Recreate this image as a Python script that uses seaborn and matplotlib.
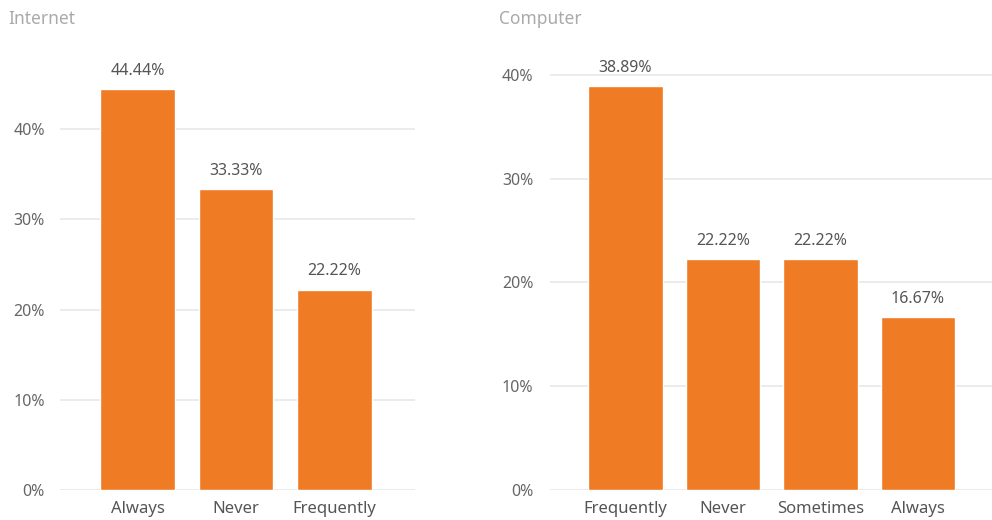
import matplotlib.pyplot as plt
import matplotlib.ticker as mtick
import pandas as pd
import seaborn as sns

# data
internetCats = ["Always", "Never", "Frequently"]
internetVals = [44.44, 33.33, 22.22]
computerCats = ["Frequently", "Never", "Sometimes", "Always"]
computerVals = [38.89, 22.22, 22.22, 16.67]

barColor = "#F07B25"
gridColor = "#E8E8E8"

sns.set_theme(style="white")
plt.rcParams['font.family'] = ['Noto Sans', 'DejaVu Sans']

W, H = 992, 520
fig = plt.figure(figsize=(W / 100, H / 100), dpi=100)


def makeAx(left, right, top, bottom):
    return fig.add_axes([left / W, (H - bottom) / H, (right - left) / W, (bottom - top) / H])


def drawPanel(ax, cats, vals, title, ymax, xlim, titleX, ypad):
    df = pd.DataFrame({"cat": cats, "val": vals})
    sns.barplot(data=df, x="cat", y="val", color=barColor, saturation=1,
                width=0.76, ax=ax, zorder=3)
    ax.set_ylim(0, ymax)
    ax.set_xlim(*xlim)
    ax.set_yticks([0, 10, 20, 30, 40])
    ax.yaxis.set_major_formatter(mtick.FuncFormatter(lambda v, p: "%d%%" % v))
    ax.grid(axis="y", color=gridColor, linewidth=1.2, zorder=0)
    ax.grid(axis="x", visible=False)
    for s in ax.spines.values():
        s.set_visible(False)
    ax.set_xlabel("")
    ax.set_ylabel("")
    ax.tick_params(axis="y", length=0, pad=ypad, labelsize=11.5, labelcolor="#666666")
    ax.tick_params(axis="x", length=0, pad=8, labelsize=12, labelcolor="#555555")
    for p, v in zip(ax.patches, vals):
        ax.annotate("%.2f%%" % v, (p.get_x() + p.get_width() / 2, p.get_height()),
                    xytext=(0, 7.5), textcoords="offset points", ha="center",
                    va="bottom", fontsize=11.5, color="#555555")
    fig.text(titleX / W, 1 - 19 / H, title, fontsize=12.5, color="#AAAAAA",
             ha="left", va="center")


axL = makeAx(60, 415, 39, 490)
drawPanel(axL, internetCats, internetVals, "Internet", 50.0, (-0.787, 2.817), 8, 11)

axR = makeAx(550, 992, 40, 490)
drawPanel(axR, computerCats, computerVals, "Computer", 43.37, (-0.774, 3.759), 499, 12)

plt.savefig("out.png", dpi=100)
